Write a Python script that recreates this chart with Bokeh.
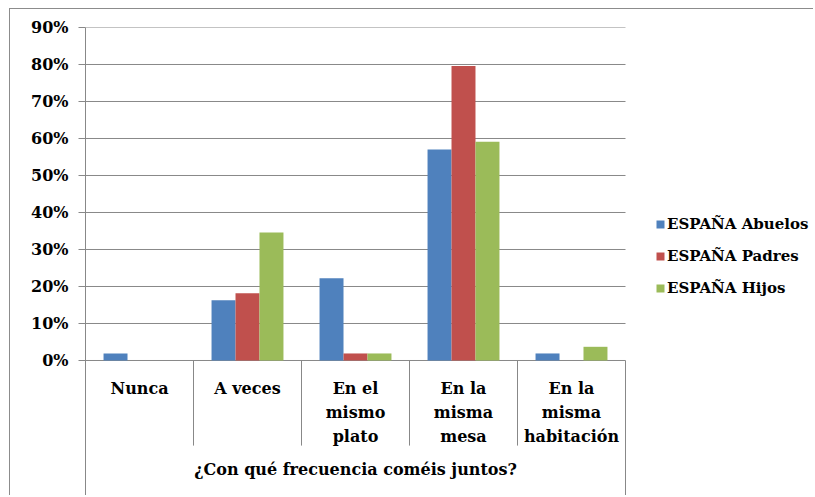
from bokeh.plotting import figure
from bokeh.models import (Range1d, NumeralTickFormatter, FixedTicker,
                          Legend, LegendItem, ColumnDataSource, Label)
from bokeh.core.properties import value
from bokeh.transform import dodge
from bokeh.embed import file_html
from bokeh.resources import INLINE

# ---- data ----
categories = ["Nunca", "A veces", "En el\nmismo\nplato", "En la\nmisma\nmesa", "En la\nmisma\nhabitación"]
series_names = ["ESPAÑA Abuelos", "ESPAÑA Padres", "ESPAÑA Hijos"]
abuelos = [1.9, 16.3, 22.2, 57.0, 1.9]
padres = [0.0, 18.2, 1.9, 79.6, 0.0]
hijos = [0.0, 34.6, 1.9, 59.1, 3.7]
y_ticks = [0.0, 0.1, 0.2, 0.3, 0.4, 0.5, 0.6, 0.7, 0.8, 0.9]
x_title = "¿Con qué frecuencia coméis juntos?"

colors = ["#4F81BD", "#C0504D", "#9BBB59"]
FONT = "DejaVu Serif"
GRAY = "#888888"

n = len(categories)
xc = [i + 0.5 for i in range(n)]
source = ColumnDataSource(dict(
    xc=xc,
    cat=categories,
    s0=[v / 100 for v in abuelos],
    s1=[v / 100 for v in padres],
    s2=[v / 100 for v in hijos],
))

Y_BOTTOM = -0.3676
X_END = 6.75
p = figure(x_range=Range1d(0, X_END), y_range=Range1d(Y_BOTTOM, 0.9), x_axis_location=None,
           width=804, height=487, output_backend="svg", toolbar_location=None,
           min_border_left=75, min_border_right=0, min_border_top=18, min_border_bottom=0)
p.styles = {"margin-left": "9px", "margin-top": "8px",
            "border-top": "1px solid #8c8c8c", "border-left": "1px solid #8c8c8c"}

# horizontal gridlines across the category area
grid = ColumnDataSource(dict(y=y_ticks, x0=[0] * len(y_ticks), x1=[n] * len(y_ticks)))
p.segment(x0="x0", y0="y", x1="x1", y1="y", source=grid, line_color=GRAY, line_width=1)

bw = 0.222
renderers = []
for i, key in enumerate(["s0", "s1", "s2"]):
    r = p.vbar(x=dodge("xc", (i - 1) * bw), top=key, width=bw,
               source=source, fill_color=colors[i], line_color=None)
    renderers.append(r)

# category separators (Excel-style tick marks between categories)
sep = ColumnDataSource(dict(
    x=list(range(n + 1)),
    y0=[0.0] * (n + 1),
    y1=[Y_BOTTOM if i in (0, n) else -0.23 for i in range(n + 1)],
))
p.segment(x0="x", y0="y0", x1="x", y1="y1", source=sep, line_color=GRAY, line_width=1)

# category labels
p.text(x="xc", y=-0.05, text="cat", source=source,
       text_font=value(FONT), text_font_style="bold", text_font_size="16px",
       text_color="black", text_align="center", text_baseline="top",
       text_line_height=1.26)

# axis title
p.add_layout(Label(x=n / 2, y=-0.295, text=x_title, text_font=FONT,
                   text_font_style="bold", text_font_size="16px", text_color="black",
                   text_align="center", text_baseline="middle"))

# y axis
p.yaxis.ticker = FixedTicker(ticks=y_ticks)
p.yaxis.formatter = NumeralTickFormatter(format="0%")
p.yaxis.major_tick_out = 7
p.yaxis.major_tick_in = 0
p.yaxis.minor_tick_line_color = None
p.yaxis.axis_line_color = GRAY
p.yaxis.major_tick_line_color = GRAY
p.yaxis.major_label_text_font = FONT
p.yaxis.major_label_text_font_style = "bold"
p.yaxis.major_label_text_font_size = "16px"
p.yaxis.major_label_text_color = "black"
p.yaxis.major_label_standoff = 10

p.grid.visible = False
p.outline_line_color = None

legend = Legend(items=[LegendItem(label=series_names[i], renderers=[renderers[i]]) for i in range(3)],
                location=(570, 198), glyph_width=10, glyph_height=10, label_standoff=2,
                spacing=12, padding=0, margin=0, border_line_color=None,
                background_fill_alpha=0, label_height=20,
                label_text_font=FONT, label_text_font_style="bold",
                label_text_font_size="15px", label_text_color="black")
p.add_layout(legend)

open("out.html", "w").write(file_html(p, INLINE))
